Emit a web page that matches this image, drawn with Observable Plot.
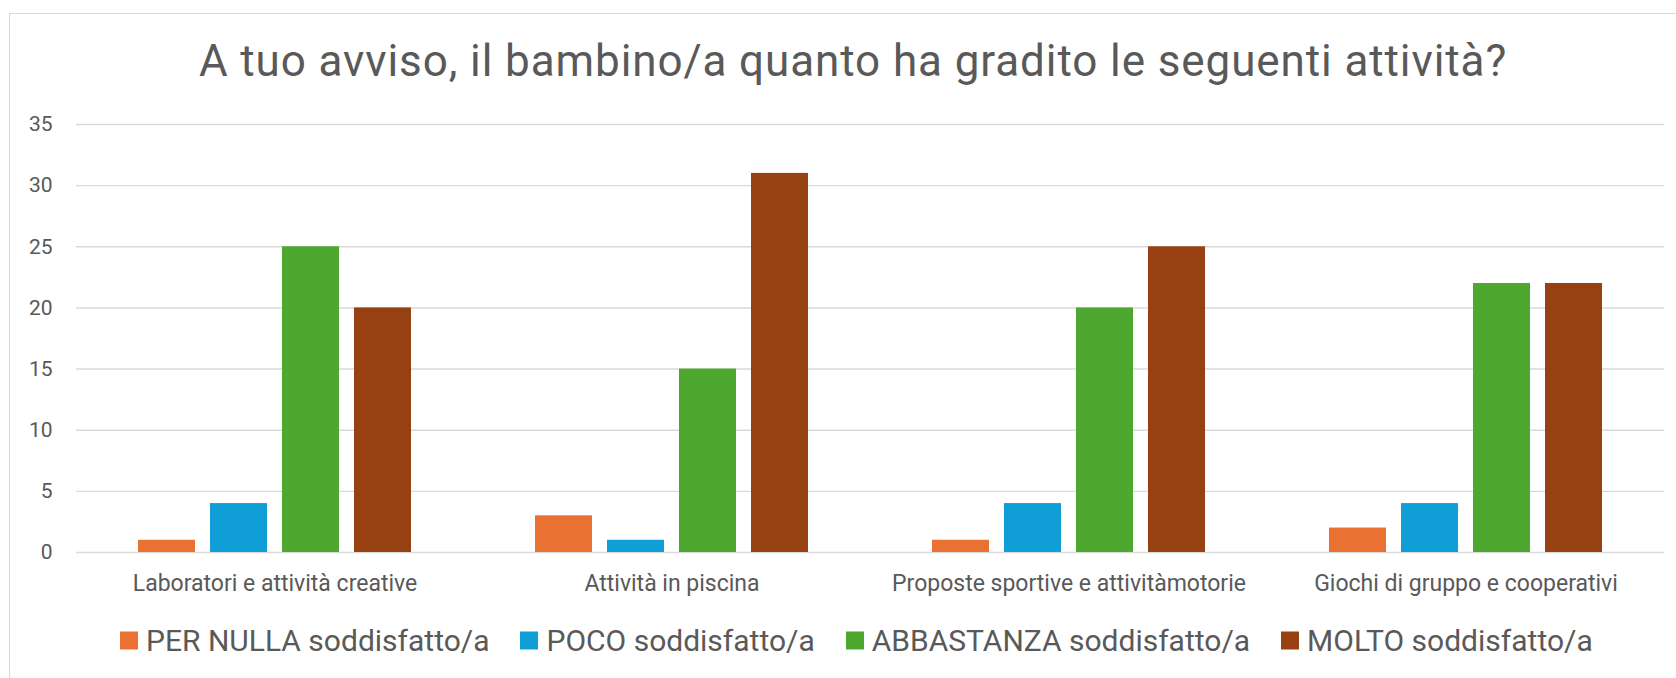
<!DOCTYPE html>
<html>
<head>
<meta charset="utf-8">
<script src="https://cdn.jsdelivr.net/npm/d3@7"></script>
<script src="https://cdn.jsdelivr.net/npm/@observablehq/plot@0.6"></script>
<style>
  html, body { margin: 0; padding: 0; background: #fff; }
  body { width: 1676px; height: 678px; position: relative; overflow: hidden; font-family: Roboto, "Noto Sans", sans-serif; }
  #frame { position: absolute; left: 9px; top: 13px; width: 1720px; height: 720px; border: 1.5px solid #d9d9d9; box-sizing: border-box; }
  #title { position: absolute; left: 853px; top: 61px; transform: translate(-50%, -50%); white-space: nowrap; font-size: 44px; letter-spacing: 0.9px; color: #595959; }
  #chart { position: absolute; left: 0; top: 100px; }
  #legend { position: absolute; left: 120px; top: 640px; transform: translateY(-50%); display: flex; align-items: center; white-space: nowrap; font-size: 30px; color: #595959; }
  .item { display: flex; align-items: center; margin-right: 31px; }
  .sw { width: 18px; height: 18px; margin-right: 8px; }
</style>
</head>
<body>
<div id="frame"></div>
<div id="title">A tuo avviso, il bambino/a quanto ha gradito le seguenti attività?</div>
<div id="chart"></div>
<div id="legend"></div>
<script>
const categories = ["Laboratori e attività creative", "Attività in piscina", "Proposte sportive e attivitàmotorie", "Giochi di gruppo e cooperativi"];
const series = ["PER NULLA soddisfatto/a", "POCO soddisfatto/a", "ABBASTANZA soddisfatto/a", "MOLTO soddisfatto/a"];
const colors = ["#E97132", "#0F9ED5", "#4EA72E", "#974011"];
const perNulla   = [1, 3, 1, 2];
const poco       = [4, 1, 4, 4];
const abbastanza = [25, 15, 20, 22];
const molto      = [20, 31, 25, 22];
const yTicks = [0, 5, 10, 15, 20, 25, 30, 35];

const seriesValues = [perNulla, poco, abbastanza, molto];
const data = [];
categories.forEach((c, i) => {
  series.forEach((s, j) => data.push({activity: c, level: s, value: seriesValues[j][i]}));
});

const chart = Plot.plot({
  width: 1676,
  height: 500,
  marginTop: 24,
  marginBottom: 48,
  marginLeft: 75,
  marginRight: 11,
  style: {fontFamily: "Roboto, 'Noto Sans', sans-serif", color: "#595959", background: "transparent"},
  fx: {domain: categories, padding: 0, axis: null, label: null},
  x: {domain: series, axis: null, paddingInner: 0.21, paddingOuter: 0.86},
  y: {domain: [0, 35], ticks: yTicks, label: null, axis: null},
  color: {domain: series, range: colors},
  marks: [
    Plot.gridY(yTicks, {stroke: "#d9d9d9", strokeOpacity: 1, strokeWidth: 1.4}),
    Plot.axisY(yTicks, {tickSize: 0, tickPadding: 24, fontSize: 21, fill: "#595959", label: null}),
    Plot.axisFx({tickSize: 0, tickPadding: 22, fontSize: 23, fill: "#595959", label: null, anchor: "bottom"}),
    Plot.barY(data, {fx: "activity", x: "level", y: "value", fill: "level"})
  ]
});
document.getElementById("chart").appendChild(chart);

const legend = document.getElementById("legend");
series.forEach((s, i) => {
  const it = document.createElement("div");
  it.className = "item";
  const sw = document.createElement("div");
  sw.className = "sw";
  sw.style.background = colors[i];
  const t = document.createElement("span");
  t.textContent = s;
  it.appendChild(sw); it.appendChild(t);
  legend.appendChild(it);
});
</script>
</body>
</html>
